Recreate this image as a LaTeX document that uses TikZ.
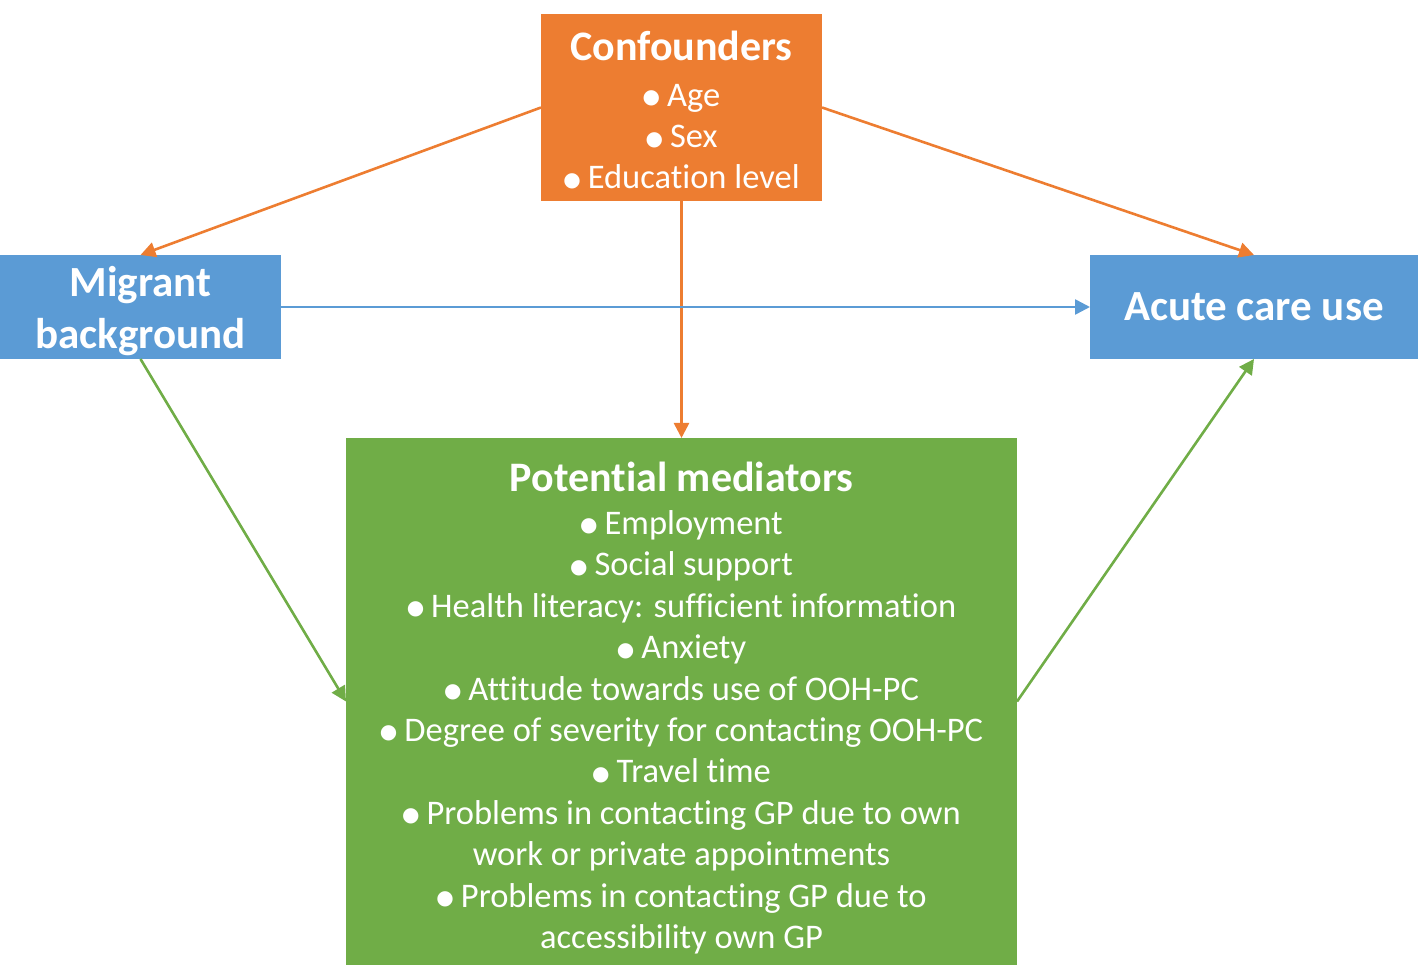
\documentclass[tikz,border=0pt]{standalone}
\usepackage{fontspec}
\setmainfont{Carlito}[Ligatures={NoCommon}]
\newfontfamily\dejavu{DejaVu Sans}
\usetikzlibrary{arrows.meta}
\definecolor{corange}{HTML}{ED7D31}
\definecolor{cblue}{HTML}{5B9BD5}
\definecolor{cgreen}{HTML}{70AD47}
\newcommand{\bul}{\raisebox{2.5pt}{\dejavu\fontsize{20}{20}\selectfont ●}\hspace{7pt}}
\tikzset{
  box/.style={inner sep=0pt, outer sep=0pt, text=white, align=center},
  itemfont/.style={font=\fontsize{34.5}{41.4}\selectfont},
  bigfont/.style={font=\fontsize{43}{52}\selectfont\bfseries},
  conn/.style={line width=2.6pt, -{Triangle[length=15pt,width=15pt]}},
}
\begin{document}
\begin{tikzpicture}[x=1pt,y=-1pt]
\useasboundingbox (0,0) rectangle (1425,965);
\node[box, fill=corange, minimum width=281pt, minimum height=187pt, itemfont] (conf) at (681.5,107.5)
  {\rule{0pt}{35pt}{\fontsize{42}{41.4}\selectfont\bfseries Confounders}\\[4pt]
   \bul Age\\ \bul Sex\\ \bul Education level};
\node[box, fill=cblue, minimum width=281pt, minimum height=104pt, bigfont] (mig) at (140.5,307)
  {\rule{0pt}{38pt}Migrant\\background};
\node[box, fill=cblue, minimum width=328pt, minimum height=104pt, bigfont] (acute) at (1254,307)
  {Acute care use};
\node[box, fill=cgreen, minimum width=671pt, minimum height=527pt, itemfont] (med) at (681.5,701.5)
  {\rule{0pt}{42pt}{\fontsize{42}{41.4}\selectfont\bfseries Potential mediators}\\[2pt]
   \bul Employment\\
   \bul Social support\\
   \bul Health literacy: sufficient information\\
   \bul Anxiety\\
   \bul Attitude towards use of OOH-PC\\
   \bul Degree of severity for contacting OOH-PC\\
   \bul Travel time\\
   \bul Problems in contacting GP due to own\\
   work or private appointments\\
   \bul Problems in contacting GP due to\\
   accessibility own GP};
\draw[conn, corange] (conf.west) -- (mig.north);
\draw[conn, corange] (conf.east) -- (acute.north);
\draw[conn, corange] (conf.south) -- (med.north);
\draw[conn, cblue] (mig.east) -- (acute.west);
\draw[conn, cgreen] (mig.south) -- (med.west);
\draw[conn, cgreen] (med.east) -- (acute.south);
\end{tikzpicture}
\end{document}
